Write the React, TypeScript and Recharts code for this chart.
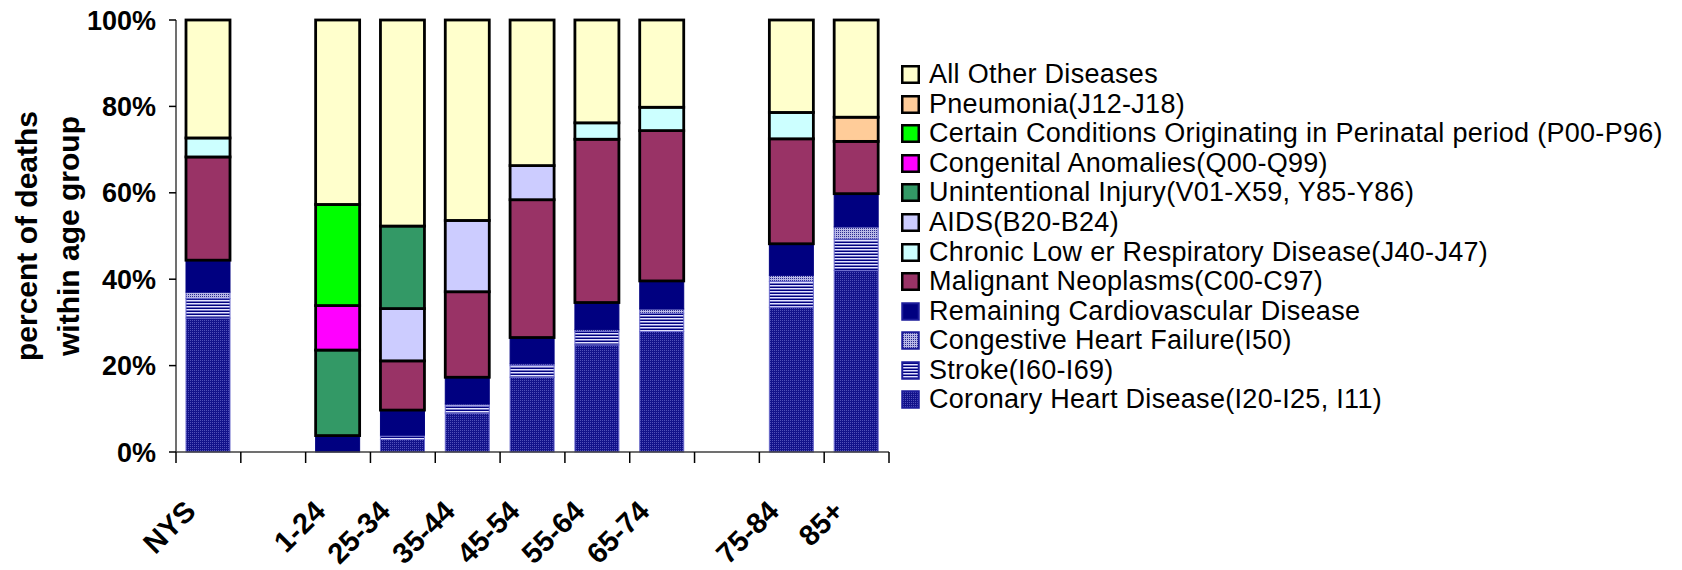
import React from 'react';
import { BarChart, Bar, XAxis, YAxis, Legend } from 'recharts';

// age groups (blank entries are the empty slots in the original chart)
const groups = ['NYS', ' ', '1-24', '25-34', '35-44', '45-54', '55-64', '65-74', '  ', '75-84', '85+'];

// percent of deaths within each age group
const coronary = [31.0, 0, 0, 2.9, 9.0, 17.3, 24.8, 27.9, 0, 33.5, 42.0];
const stroke = [4.5, 0, 0, 0.8, 1.6, 2.7, 3.1, 4.2, 0, 6.0, 7.3];
const chf = [1.5, 0, 0, 0.2, 0.5, 0.4, 0.4, 1.0, 0, 1.4, 2.8];
const remainingCvd = [7.4, 0, 3.8, 5.8, 6.2, 6.1, 6.3, 6.5, 0, 7.3, 7.7];
const malignant = [23.9, 0, 0, 11.4, 19.8, 31.9, 37.8, 34.8, 0, 24.3, 12.1];
const chronicLower = [4.4, 0, 0, 0, 0, 0, 3.8, 5.4, 0, 6.1, 0];
const aids = [0, 0, 0, 12.1, 16.5, 7.9, 0, 0, 0, 0, 0];
const injury = [0, 0, 19.8, 19.1, 0, 0, 0, 0, 0, 0, 0];
const congenital = [0, 0, 10.3, 0, 0, 0, 0, 0, 0, 0, 0];
const perinatal = [0, 0, 23.4, 0, 0, 0, 0, 0, 0, 0, 0];
const pneumonia = [0, 0, 0, 0, 0, 0, 0, 0, 0, 0, 5.6];
const allOther = [27.3, 0, 42.7, 47.7, 46.4, 33.7, 23.8, 20.2, 0, 21.4, 22.5];

const yTicks = [0, 20, 40, 60, 80, 100];

// stacking order, bottom to top
const series = [
  { key: 'coronary', name: 'Coronary Heart Disease(I20-I25, I11)', values: coronary, fill: 'url(#patCoronary)', stroke: '#6a6acc', sw: 1 },
  { key: 'stroke', name: 'Stroke(I60-I69)', values: stroke, fill: 'url(#patStroke)', stroke: '#6a6acc', sw: 1 },
  { key: 'chf', name: 'Congestive Heart Failure(I50)', values: chf, fill: 'url(#patChf)', stroke: '#6a6acc', sw: 1 },
  { key: 'remaining', name: 'Remaining Cardiovascular Disease', values: remainingCvd, fill: '#000080', stroke: '#000080', sw: 1 },
  { key: 'malignant', name: 'Malignant Neoplasms(C00-C97)', values: malignant, fill: '#993366', stroke: '#000', sw: 2.8 },
  { key: 'chronic', name: 'Chronic Low er Respiratory Disease(J40-J47)', values: chronicLower, fill: '#CCFFFF', stroke: '#000', sw: 2.8 },
  { key: 'aids', name: 'AIDS(B20-B24)', values: aids, fill: '#CCCCFF', stroke: '#000', sw: 2.8 },
  { key: 'injury', name: 'Unintentional Injury(V01-X59, Y85-Y86)', values: injury, fill: '#339966', stroke: '#000', sw: 2.8 },
  { key: 'congenital', name: 'Congenital Anomalies(Q00-Q99)', values: congenital, fill: '#FF00FF', stroke: '#000', sw: 2.8 },
  { key: 'perinatal', name: 'Certain Conditions Originating in Perinatal period (P00-P96)', values: perinatal, fill: '#00FF00', stroke: '#000', sw: 2.8 },
  { key: 'pneumonia', name: 'Pneumonia(J12-J18)', values: pneumonia, fill: '#FFCC99', stroke: '#000', sw: 2.8 },
  { key: 'allOther', name: 'All Other Diseases', values: allOther, fill: '#FFFFCC', stroke: '#000', sw: 2.8 },
];

const data = groups.map((g, i) => {
  const row: Record<string, any> = { group: g };
  series.forEach(s => { row[s.key] = s.values[i]; });
  return row;
});

const W = 1682;
const H = 570;
const Y_W = 176;
const M_RIGHT = 793;
const BAND = (W - Y_W - M_RIGHT) / groups.length;
const FONT = '"Liberation Sans", Arial, sans-serif';

function GroupTick(props: any) {
  const { x, y, payload } = props;
  const half = BAND / 2;
  const last = payload.value === groups[groups.length - 1];
  return (
    <g>
      <line x1={x - half} x2={x - half} y1={y} y2={y + 11} stroke="#000" strokeWidth={1.5} />
      {last && <line x1={x + half} x2={x + half} y1={y} y2={y + 11} stroke="#000" strokeWidth={1.5} />}
      <text
        transform={`translate(${x - 11},${y + 61}) rotate(-45)`}
        textAnchor="end"
        fontFamily={FONT}
        fontWeight="bold"
        fontSize={29}
        fill="#000"
      >
        {payload.value.trim()}
      </text>
    </g>
  );
}

function YTitle() {
  const cy = 236;
  return (
    <g fontFamily={FONT} fontWeight="bold" fontSize={30} fill="#000">
      <text transform={`translate(37,${cy}) rotate(-90)`} textAnchor="middle">percent of deaths</text>
      <text transform={`translate(79,${cy}) rotate(-90)`} textAnchor="middle">within age group</text>
    </g>
  );
}

function SegmentShape(s: typeof series[number]) {
  return (p: any) => {
    if (!p.height || p.height <= 0) return <g />;
    return (
      <rect
        x={p.x}
        y={p.y}
        width={p.width}
        height={p.height}
        fill={s.fill}
        stroke={s.stroke}
        strokeWidth={s.sw}
      />
    );
  };
}

function LegendIcon({ s }: { s: typeof series[number] }) {
  const black = s.stroke === '#000';
  return (
    <svg width={19} height={19} style={{ display: 'block', flex: 'none' }}>
      <rect
        x={1.25}
        y={1.25}
        width={16.5}
        height={16.5}
        fill={s.fill}
        stroke={black ? '#000' : '#1c1c9a'}
        strokeWidth={black ? 2.5 : 2}
      />
    </svg>
  );
}

function LegendBox() {
  const rows = [...series].reverse();
  return (
    <div style={{ fontFamily: FONT, fontSize: 27, letterSpacing: 0.3, color: '#000' }}>
      {rows.map(s => (
        <div key={s.key} style={{ display: 'flex', alignItems: 'center', height: 29.55, whiteSpace: 'nowrap' }}>
          <LegendIcon s={s} />
          <span style={{ marginLeft: 9, lineHeight: '29px' }}>{s.name}</span>
        </div>
      ))}
    </div>
  );
}

export default function App() {
  return (
    <div style={{ position: 'absolute', left: 0, top: 0, width: W, height: H, background: '#fff' }}>
      <BarChart
        width={W}
        height={H}
        data={data}
        margin={{ top: 20, right: M_RIGHT, bottom: 0, left: 0 }}
        barSize={44}
      >
        <defs>
          <pattern id="patCoronary" patternUnits="userSpaceOnUse" width={2} height={2}>
            <rect width={2} height={2} fill="#12128a" />
            <rect width={1} height={1} fill="#5050b8" />
          </pattern>
          <pattern id="patStroke" patternUnits="userSpaceOnUse" width={4} height={3}>
            <rect width={4} height={3} fill="#000080" />
            <rect width={4} height={1.5} fill="#e4e4ff" />
          </pattern>
          <pattern id="patChf" patternUnits="userSpaceOnUse" width={2} height={2}>
            <rect width={2} height={2} fill="#b8b8e6" />
            <rect width={1} height={1} fill="#2a2a90" />
          </pattern>
        </defs>
        <XAxis
          dataKey="group"
          interval={0}
          height={118}
          tickLine={false}
          tickSize={0}
          tickMargin={0}
          axisLine={{ stroke: '#404040', strokeWidth: 1.5 }}
          tick={<GroupTick />}
        />
        <YAxis
          width={Y_W}
          domain={[0, 100]}
          ticks={yTicks}
          interval={0}
          tickSize={7}
          tickMargin={13}
          axisLine={{ stroke: '#404040', strokeWidth: 1.5 }}
          tickLine={{ stroke: '#000', strokeWidth: 1.5 }}
          tickFormatter={(v: number) => `${v}%`}
          tick={{ fontFamily: FONT, fontWeight: 'bold', fontSize: 27, fill: '#000' }}
          label={{ content: () => <YTitle /> }}
        />
        <Legend
          layout="vertical"
          align="center"
          verticalAlign="middle"
          content={() => <LegendBox />}
          wrapperStyle={{ left: 901, top: 60, width: 780, height: 360 }}
        />
        {series.map(s => (
          <Bar
            key={s.key}
            dataKey={s.key}
            name={s.name}
            stackId="a"
            fill={s.fill}
            stroke={s.stroke}
            strokeWidth={s.sw}
            shape={SegmentShape(s)}
            isAnimationActive={false}
          />
        ))}
      </BarChart>
    </div>
  );
}
